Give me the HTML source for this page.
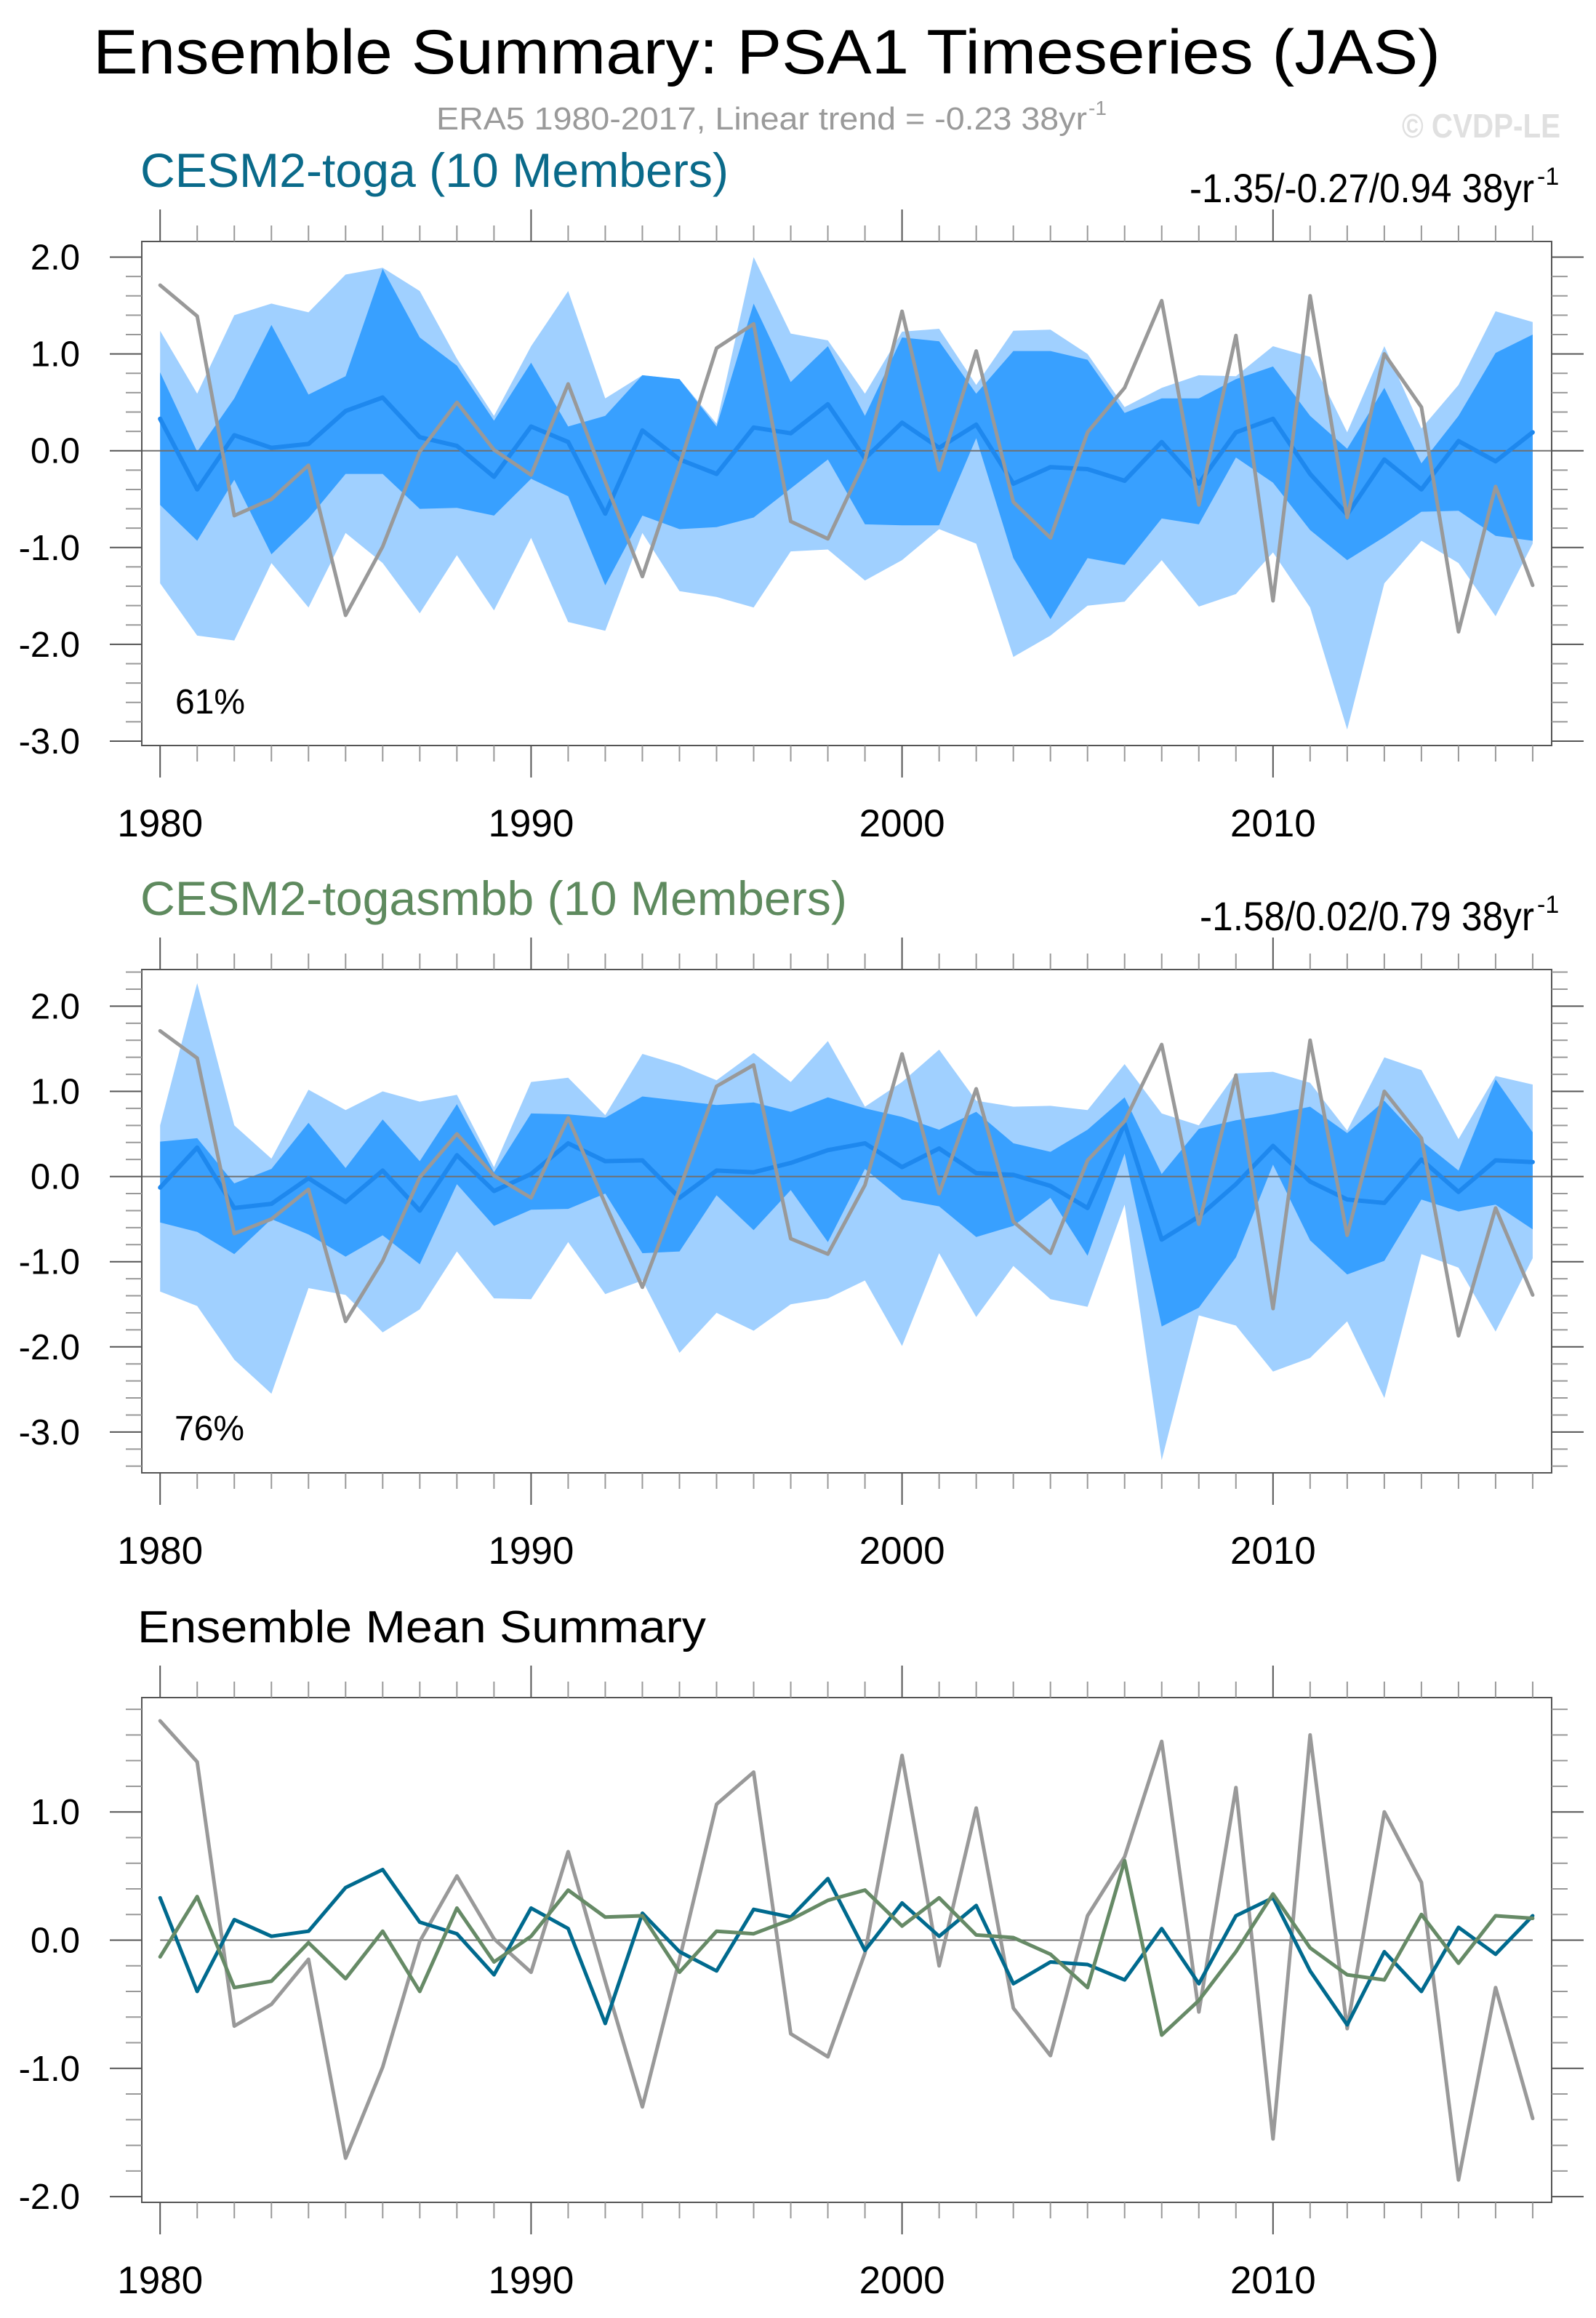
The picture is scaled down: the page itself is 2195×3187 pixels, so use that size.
<!DOCTYPE html>
<html><head><meta charset="utf-8"><style>
html,body{margin:0;padding:0;background:#fff;}
svg{display:block;font-family:"Liberation Sans",sans-serif;}
</style></head><body>
<svg id="fig" xmlns="http://www.w3.org/2000/svg" width="2195" height="3187" viewBox="0 0 2195 3187">
<rect width="2195" height="3187" fill="#fff"/>
<text x="128" y="101" font-size="86" textLength="1853" lengthAdjust="spacingAndGlyphs" fill="#000">Ensemble Summary: PSA1 Timeseries (JAS)</text>
<text x="600" y="178" font-size="44" textLength="895" lengthAdjust="spacingAndGlyphs" fill="#9a9a9a">ERA5 1980-2017, Linear trend = -0.23 38yr</text>
<text x="1497" y="158" font-size="28" fill="#9a9a9a">-1</text>
<text x="1928" y="189" font-size="46" font-weight="bold" textLength="218" lengthAdjust="spacingAndGlyphs" fill="#e0e0e0">© CVDP-LE</text>
<g id="plots"></g>
</svg>
<script>
const years = [];
for (let y = 1980; y <= 2017; y++) years.push(y);
const era5 = [1.71,1.39,-0.67,-0.50,-0.15,-1.70,-0.99,-0.01,0.50,0.01,-0.25,0.69,-0.32,-1.30,-0.15,1.06,1.31,-0.73,-0.91,-0.10,1.44,-0.20,1.03,-0.53,-0.90,0.19,0.65,1.55,-0.56,1.19,-1.55,1.60,-0.69,1.00,0.45,-1.87,-0.37,-1.39];
const togaMean = [0.33,-0.40,0.16,0.03,0.07,0.41,0.55,0.14,0.05,-0.27,0.25,0.09,-0.65,0.21,-0.09,-0.24,0.24,0.18,0.48,-0.08,0.29,0.03,0.27,-0.34,-0.17,-0.19,-0.31,0.09,-0.34,0.19,0.33,-0.24,-0.66,-0.09,-0.40,0.10,-0.11,0.19];
const smbbMean = [-0.13,0.34,-0.37,-0.32,-0.02,-0.30,0.07,-0.40,0.25,-0.17,0.03,0.39,0.18,0.19,-0.25,0.07,0.05,0.16,0.31,0.39,0.11,0.33,0.04,0.02,-0.11,-0.37,0.62,-0.74,-0.47,-0.09,0.36,-0.06,-0.27,-0.31,0.20,-0.18,0.19,0.17];
const togaMax = [1.24,0.59,1.40,1.52,1.43,1.82,1.89,1.65,0.95,0.36,1.08,1.65,0.54,0.78,0.74,0.28,2.00,1.21,1.14,0.59,1.23,1.26,0.68,1.24,1.25,1.00,0.45,0.65,0.78,0.77,1.08,0.97,0.19,1.08,0.23,0.68,1.44,1.33];
const togaHi = [0.81,-0.01,0.54,1.30,0.58,0.77,1.88,1.17,0.88,0.31,0.91,0.25,0.36,0.78,0.74,0.25,1.52,0.71,1.08,0.36,1.17,1.13,0.59,1.03,1.03,0.94,0.39,0.54,0.54,0.74,0.87,0.36,0.02,0.65,-0.13,0.36,1.01,1.20];
const togaLo = [-0.56,-0.93,-0.30,-1.07,-0.70,-0.24,-0.24,-0.60,-0.59,-0.67,-0.29,-0.47,-1.39,-0.67,-0.81,-0.79,-0.69,-0.39,-0.09,-0.76,-0.77,-0.77,0.13,-1.11,-1.74,-1.11,-1.18,-0.70,-0.76,-0.07,-0.33,-0.82,-1.13,-0.89,-0.63,-0.62,-0.88,-0.93];
const togaMin = [-1.37,-1.91,-1.96,-1.16,-1.62,-0.85,-1.16,-1.68,-1.08,-1.65,-0.90,-1.77,-1.86,-0.85,-1.45,-1.51,-1.62,-1.04,-1.02,-1.34,-1.13,-0.81,-0.96,-2.13,-1.91,-1.60,-1.56,-1.13,-1.61,-1.48,-1.05,-1.62,-2.88,-1.37,-0.93,-1.16,-1.71,-0.96];
const smbbMax = [0.60,2.27,0.60,0.21,1.02,0.78,1.00,0.88,0.96,0.11,1.11,1.16,0.72,1.44,1.31,1.13,1.45,1.11,1.59,0.82,1.11,1.49,0.89,0.82,0.83,0.78,1.32,0.74,0.60,1.21,1.23,1.10,0.54,1.40,1.25,0.44,1.18,1.08];
const smbbHi = [0.41,0.45,-0.08,0.09,0.63,0.10,0.67,0.18,0.85,0.05,0.74,0.73,0.69,0.94,0.89,0.84,0.87,0.76,0.93,0.80,0.70,0.55,0.76,0.39,0.29,0.55,0.93,0.03,0.56,0.66,0.73,0.82,0.51,0.89,0.42,0.07,1.14,0.52];
const smbbLo = [-0.54,-0.65,-0.91,-0.50,-0.68,-0.94,-0.69,-1.03,-0.09,-0.58,-0.39,-0.38,-0.20,-0.90,-0.88,-0.22,-0.63,-0.16,-0.77,0.09,-0.27,-0.35,-0.71,-0.58,-0.25,-0.93,0.27,-1.76,-1.54,-0.95,0.14,-0.75,-1.15,-0.99,-0.27,-0.41,-0.33,-0.62];
const smbbMin = [-1.35,-1.52,-2.15,-2.55,-1.31,-1.39,-1.83,-1.56,-0.88,-1.43,-1.44,-0.77,-1.38,-1.22,-2.07,-1.60,-1.81,-1.50,-1.43,-1.22,-1.99,-0.90,-1.65,-1.05,-1.44,-1.53,-0.33,-3.33,-1.63,-1.75,-2.29,-2.13,-1.70,-2.60,-0.91,-1.07,-1.82,-0.96];
const yTicks1 = [2.0,1.0,0.0,-1.0,-2.0,-3.0];
const yTickLabels1 = ["2.0","1.0","0.0","-1.0","-2.0","-3.0"];
const yTicks3 = [1.0,0.0,-1.0,-2.0];
const yTickLabels3 = ["1.0","0.0","-1.0","-2.0"];
const xTicks = [1980,1990,2000,2010];

const NS = "http://www.w3.org/2000/svg";
const root = document.getElementById('plots');
function mk(tag, attrs, parent) {
  const e = document.createElementNS(NS, tag);
  for (const k in attrs) e.setAttribute(k, attrs[k]);
  (parent || root).appendChild(e);
  return e;
}
const FL = 195, FR = 2134;
function xs(yr) { return 220.2 + (yr - 1980) * 51.02; }

function panel(cfg) {
  const g = mk('g', {});
  
  
  const ys = v => cfg.y0 - v * cfg.unit;
  const top = cfg.top, bot = cfg.bot;
  const vmax = (cfg.y0 - top) / cfg.unit, vmin = (cfg.y0 - bot) / cfg.unit;
  // bands
  function band(up, lo, fill, nm) {
    let d = '';
    years.forEach((yr, i) => { d += (i ? 'L' : 'M') + xs(yr).toFixed(1) + ' ' + ys(up[i]).toFixed(1); });
    for (let i = years.length - 1; i >= 0; i--) d += 'L' + xs(years[i]).toFixed(1) + ' ' + ys(lo[i]).toFixed(1);
    const p = mk('path', { d: d + 'Z', fill: fill }, g);
    
    
  }
  if (cfg.bands) {
    band(cfg.bands[0], cfg.bands[3], '#a0d0ff', 'band-min-max');
    band(cfg.bands[1], cfg.bands[2], '#38a0ff', 'band-inner');
  }
  const zl = mk('line', { x1: cfg.zeroFromFrame ? FL : xs(1980), x2: cfg.zeroFromFrame ? FR : xs(2017), y1: ys(0), y2: ys(0), stroke: '#707070', 'stroke-width': 2 }, g);
  
  
  function line(vals, col, w, nm) {
    const pts = years.map((yr, i) => xs(yr).toFixed(1) + ',' + ys(vals[i]).toFixed(1)).join(' ');
    const p = mk('polyline', { points: pts, fill: 'none', stroke: col, 'stroke-width': w, 'stroke-linejoin': 'round', 'stroke-linecap': 'round' }, g);
    
    
  }
  cfg.lines.forEach(l => line(l[0], l[1], l[2], l[3]));
  // frame
  const fr = mk('rect', { x: FL, y: top, width: FR - FL, height: bot - top, fill: 'none', stroke: '#555', 'stroke-width': 2 }, g);
  
  
  // x ticks
  for (let yr = 1980; yr <= 2017; yr++) {
    const maj = yr % 10 === 0, L = maj ? 44 : 22, c = maj ? '#555' : '#999';
    mk('line', { x1: xs(yr), x2: xs(yr), y1: top, y2: top - L, stroke: c, 'stroke-width': 2 }, g);
    mk('line', { x1: xs(yr), x2: xs(yr), y1: bot, y2: bot + L, stroke: c, 'stroke-width': 2 }, g);
  }
  xTicks.forEach(yr => {
    const t = mk('text', { x: xs(yr), y: bot + 125, 'font-size': 53, 'text-anchor': 'middle', fill: '#000' }, g);
    t.textContent = String(yr);
    
    
  });
  // y minor ticks every 0.2
  for (let k = Math.ceil(vmin * 5); k <= Math.floor(vmax * 5); k++) {
    const v = k / 5, y = ys(v), maj = (k % 5 === 0), L = maj ? 44 : 22, c = maj ? '#555' : '#999';
    mk('line', { x1: FL, x2: FL - L, y1: y, y2: y, stroke: c, 'stroke-width': 2 }, g);
    mk('line', { x1: FR, x2: FR + L, y1: y, y2: y, stroke: c, 'stroke-width': 2 }, g);
  }
  cfg.yt.forEach((v, i) => {
    const t = mk('text', { x: 110, y: ys(v) + 17, 'font-size': 49, 'text-anchor': 'end', fill: '#000' }, g);
    t.textContent = cfg.ytl[i];
    
    
  });
}

panel({ name: 'panel-cesm2-toga', top: 332, bot: 1025, y0: 619.7, unit: 133.1,
  bands: [togaMax, togaHi, togaLo, togaMin], zeroFromFrame: true, yt: yTicks1, ytl: yTickLabels1,
  lines: [[togaMean, '#1e88ee', 6, 'toga-ensemble-mean-line'], [era5, '#999999', 5, 'era5-line']] });
panel({ name: 'panel-cesm2-togasmbb', top: 1333, bot: 2025, y0: 1617.6, unit: 117.1,
  bands: [smbbMax, smbbHi, smbbLo, smbbMin], zeroFromFrame: true, yt: yTicks1, ytl: yTickLabels1,
  lines: [[smbbMean, '#1e88ee', 6, 'togasmbb-ensemble-mean-line'], [era5, '#999999', 5, 'era5-line']] });
panel({ name: 'panel-ensemble-mean-summary', top: 2334, bot: 3028, y0: 2667.5, unit: 176.3,
  bands: null, zeroFromFrame: false, yt: yTicks3, ytl: yTickLabels3,
  lines: [[era5, '#999999', 5, 'era5-line'], [togaMean, '#006a8e', 5, 'toga-mean-line'], [smbbMean, '#668a66', 5, 'togasmbb-mean-line']] });

function txt(x, y, s, size, col, nm, extra) {
  const t = mk('text', Object.assign({ x: x, y: y, 'font-size': size, fill: col }, extra || {}));
  t.textContent = s;
  
  
  return t;
}
txt(193, 257, 'CESM2-toga (10 Members)', 66, '#0a6a8a', 'panel1-title', { textLength: 809, lengthAdjust: 'spacingAndGlyphs' });
txt(1636, 278, '-1.35/-0.27/0.94 38yr', 56, '#000', 'panel1-trend-range', { textLength: 474, lengthAdjust: 'spacingAndGlyphs' });
txt(2114, 254, '-1', 34, '#000', 'panel1-trend-exponent');
txt(241, 981, '61%', 48, '#000', 'panel1-percent');
txt(193, 1258, 'CESM2-togasmbb (10 Members)', 66, '#5e8a5e', 'panel2-title', { textLength: 972, lengthAdjust: 'spacingAndGlyphs' });
txt(1650, 1279, '-1.58/0.02/0.79 38yr', 56, '#000', 'panel2-trend-range', { textLength: 460, lengthAdjust: 'spacingAndGlyphs' });
txt(2114, 1255, '-1', 34, '#000', 'panel2-trend-exponent');
txt(240, 1980, '76%', 48, '#000', 'panel2-percent');
txt(189, 2258, 'Ensemble Mean Summary', 62, '#000', 'panel3-title', { textLength: 782, lengthAdjust: 'spacingAndGlyphs' });
</script>
</body></html>
